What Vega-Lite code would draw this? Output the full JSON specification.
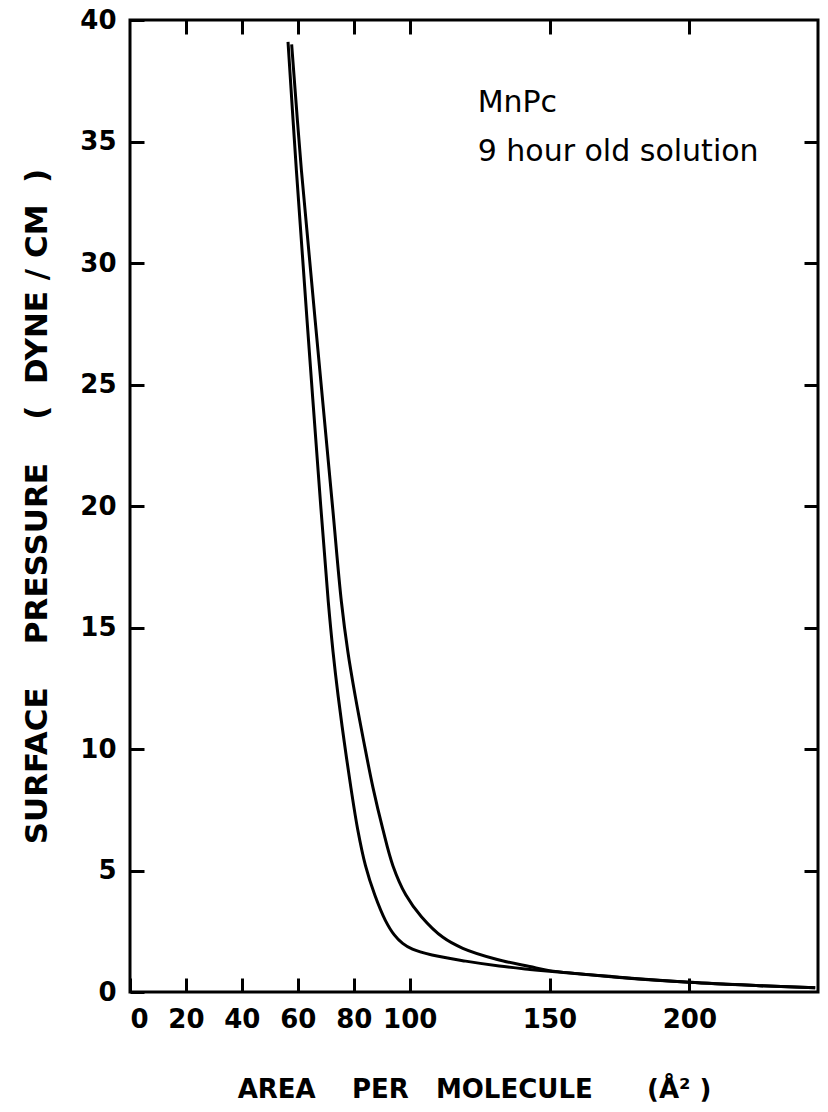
{
  "$schema": "https://vega.github.io/schema/vega-lite/v6.json",
  "width": 688,
  "height": 972,
  "autosize": {"type": "none"},
  "padding": {"left": 130, "top": 20, "right": 10, "bottom": 120},
  "background": "white",
  "config": {
    "view": {"stroke": "black", "strokeWidth": 3},
    "font": "DejaVu Sans",
    "axis": {"domain": false, "grid": false, "tickColor": "black", "tickWidth": 3, "labelColor": "black", "titleColor": "black", "labelFontWeight": "bold", "titleFontWeight": "bold"}
  },
  "datasets": {
    "curves": [
      {"curve": "A", "area": 56.5, "pressure": 39.1},
      {"curve": "A", "area": 59.5, "pressure": 33.8},
      {"curve": "A", "area": 63.3, "pressure": 27.65},
      {"curve": "A", "area": 68.2, "pressure": 20.0},
      {"curve": "A", "area": 70.9, "pressure": 16.05},
      {"curve": "A", "area": 72.6, "pressure": 14.0},
      {"curve": "A", "area": 74.4, "pressure": 12.2},
      {"curve": "A", "area": 76.6, "pressure": 10.3},
      {"curve": "A", "area": 79.0, "pressure": 8.4},
      {"curve": "A", "area": 81.4, "pressure": 6.7},
      {"curve": "A", "area": 84.2, "pressure": 5.2},
      {"curve": "A", "area": 87.5, "pressure": 4.0},
      {"curve": "A", "area": 91.3, "pressure": 2.95},
      {"curve": "A", "area": 94.5, "pressure": 2.35},
      {"curve": "A", "area": 97.5, "pressure": 2.0},
      {"curve": "A", "area": 101, "pressure": 1.76},
      {"curve": "A", "area": 108, "pressure": 1.52},
      {"curve": "A", "area": 120, "pressure": 1.27},
      {"curve": "A", "area": 132, "pressure": 1.07},
      {"curve": "A", "area": 143, "pressure": 0.93},
      {"curve": "A", "area": 150, "pressure": 0.85},
      {"curve": "A", "area": 175, "pressure": 0.6},
      {"curve": "A", "area": 200, "pressure": 0.4},
      {"curve": "A", "area": 225, "pressure": 0.26},
      {"curve": "A", "area": 245, "pressure": 0.17},
      {"curve": "B", "area": 57.8, "pressure": 39.0},
      {"curve": "B", "area": 61.3, "pressure": 33.8},
      {"curve": "B", "area": 66.2, "pressure": 27.65},
      {"curve": "B", "area": 72.4, "pressure": 20.0},
      {"curve": "B", "area": 75.6, "pressure": 16.05},
      {"curve": "B", "area": 77.9, "pressure": 14.0},
      {"curve": "B", "area": 80.5, "pressure": 12.2},
      {"curve": "B", "area": 83.6, "pressure": 10.3},
      {"curve": "B", "area": 86.9, "pressure": 8.4},
      {"curve": "B", "area": 90.4, "pressure": 6.7},
      {"curve": "B", "area": 94.0, "pressure": 5.2},
      {"curve": "B", "area": 98.6, "pressure": 4.0},
      {"curve": "B", "area": 104.2, "pressure": 3.1},
      {"curve": "B", "area": 111.9, "pressure": 2.25},
      {"curve": "B", "area": 119.0, "pressure": 1.8},
      {"curve": "B", "area": 131.0, "pressure": 1.35},
      {"curve": "B", "area": 142.9, "pressure": 1.05},
      {"curve": "B", "area": 150, "pressure": 0.88},
      {"curve": "B", "area": 175, "pressure": 0.61},
      {"curve": "B", "area": 200, "pressure": 0.4},
      {"curve": "B", "area": 225, "pressure": 0.26},
      {"curve": "B", "area": 245, "pressure": 0.17}
    ]
  },
  "layer": [
    {
      "data": {"name": "curves"},
      "mark": {"type": "line", "color": "black", "strokeWidth": 3, "interpolate": "catmull-rom"},
      "encoding": {
        "x": {
          "field": "area", "type": "quantitative",
          "scale": {"domain": [0, 246], "nice": false, "zero": true},
          "axis": {
            "orient": "bottom", "values": [0, 20, 40, 60, 80, 100, 150, 200],
            "tickSize": -14, "labelPadding": 28, "labelFontSize": 26,
            "title": "AREA\u00a0\u00a0\u00a0\u00a0PER\u00a0\u00a0\u00a0MOLECULE\u00a0\u00a0\u00a0\u00a0\u00a0\u00a0(Å²\u00a0)",
            "titleFontSize": 26, "titlePadding": 44
          }
        },
        "y": {
          "field": "pressure", "type": "quantitative",
          "scale": {"domain": [0, 40], "nice": false, "zero": true},
          "axis": {
            "orient": "left", "values": [0, 5, 10, 15, 20, 25, 30, 35, 40],
            "tickSize": -14, "labelPadding": 28, "labelFontSize": 26,
            "title": "SURFACE\u00a0\u00a0\u00a0\u00a0PRESSURE\u00a0\u00a0\u00a0\u00a0(\u00a0\u00a0DYNE\u00a0/\u00a0CM\u00a0\u00a0)",
            "titleFontSize": 31, "titlePadding": 26
          }
        },
        "detail": {"field": "curve"}
      }
    },
    {
      "data": {"values": [{}]},
      "mark": {"type": "text", "align": "left", "baseline": "alphabetic", "fontSize": 30, "color": "black"},
      "encoding": {
        "x": {"datum": 124.3, "type": "quantitative",
          "axis": {"orient": "top", "values": [20, 40, 60, 80, 100, 150, 200], "labels": false, "tickSize": -14, "title": null}},
        "y": {"datum": 36.2, "type": "quantitative",
          "axis": {"orient": "right", "values": [5, 10, 15, 20, 25, 30, 35], "labels": false, "tickSize": -14, "title": null}},
        "text": {"value": "MnPc"}
      }
    },
    {
      "data": {"values": [{}]},
      "mark": {"type": "text", "align": "left", "baseline": "alphabetic", "fontSize": 30, "color": "black"},
      "encoding": {
        "x": {"datum": 124.3, "type": "quantitative", "axis": null},
        "y": {"datum": 34.2, "type": "quantitative", "axis": null},
        "text": {"value": "9 hour old solution"}
      }
    }
  ],
  "resolve": {"scale": {"x": "shared", "y": "shared"}, "axis": {"x": "independent", "y": "independent"}}
}
